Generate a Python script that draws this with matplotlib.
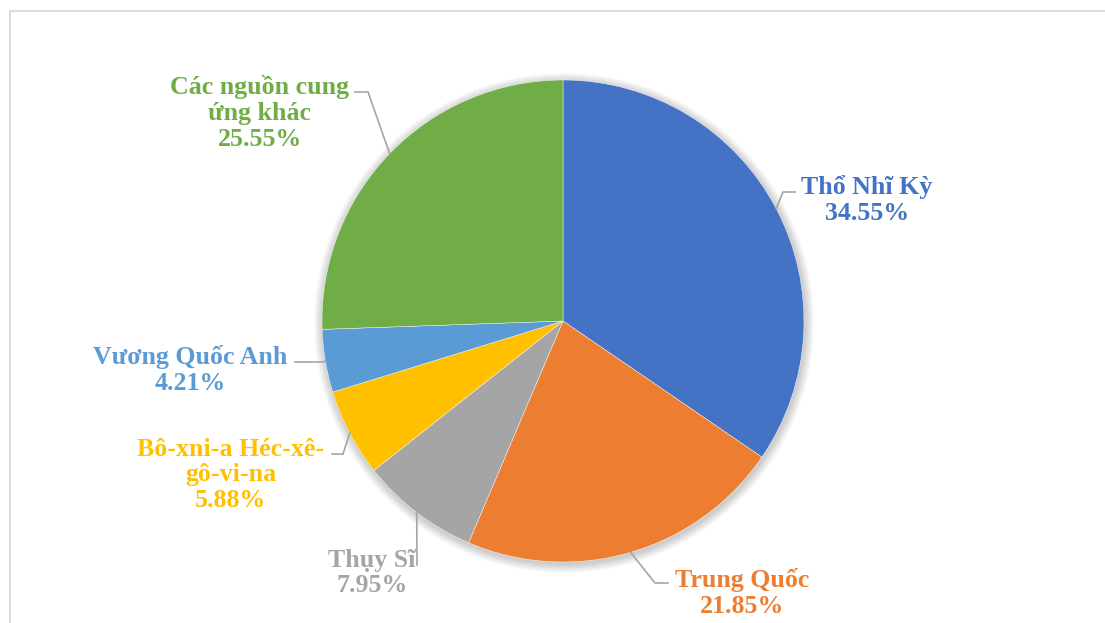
import matplotlib
matplotlib.use("Agg")
import matplotlib.pyplot as plt
from matplotlib.patches import Circle
import numpy as np

# Cơ cấu nguồn cung ứng (%)
labels = ["Thổ Nhĩ Kỳ", "Trung Quốc", "Thụy Sĩ", "Bô-xni-a Héc-xê-\ngô-vi-na",
          "Vương Quốc Anh", "Các nguồn cung\nứng khác"]
shares = [34.55, 21.85, 7.95, 5.88, 4.21, 25.55]
colors = ["#4472C4", "#ED7D31", "#A5A5A5", "#FFC000", "#5B9BD5", "#70AD47"]

W, H = 1105, 623
fig = plt.figure(figsize=(W / 100, H / 100), dpi=100)
ax = fig.add_axes([0, 0, 1, 1])

cx, cy, R = 563, H - 321, 241

# soft shadow round the pie
for i in range(10, 0, -1):
    ax.add_patch(Circle((cx + 1, cy - 2), R + i * 0.9, color="black",
                        alpha=0.02, lw=0, zorder=1))

wedges, _ = ax.pie(shares, colors=colors, startangle=90, counterclock=False,
                   center=(cx, cy), radius=R, frame=True,
                   wedgeprops=dict(edgecolor="white", linewidth=0.3, zorder=2))
ax.set_xlim(0, W)
ax.set_ylim(0, H)
ax.axis("off")

# label block centres and leader elbows (pixels from top-left)
label_pos = [(867, 200), (742, 593), (372, 573), (231, 475), (190, 370), (260, 113)]
elbows = [
    [(783, 192), (795, 192)],
    [(655, 583), (668, 583)],
    [(417, 565)],
    [(343, 454), (332, 454)],
    [(323, 362), (295, 362)],
    [(368, 92), (355, 92)],
]

font = ["Liberation Serif", "DejaVu Serif"]
for w, lab, val, col, (tx, ty), pts in zip(wedges, labels, shares, colors, label_pos, elbows):
    mid = np.deg2rad((w.theta1 + w.theta2) / 2)
    sx = w.center[0] + w.r * np.cos(mid)
    sy = w.center[1] + w.r * np.sin(mid)
    xs = [sx] + [p[0] for p in pts]
    ys = [sy] + [H - p[1] for p in pts]
    ax.plot(xs, ys, color="#A6A6A6", lw=1.2, zorder=3, solid_joinstyle="miter")
    ax.text(tx, H - ty, f"{lab}\n{val:.2f}%", color=col, family=font,
            fontsize=18.6, fontweight="bold", ha="center", va="center",
            linespacing=1.15, zorder=4)

# chart frame
ax.plot([10, 10, W + 5], [-5, H - 11, H - 11], color="#D9D9D9", lw=1.3,
        clip_on=False, zorder=0)

fig.savefig("out.png", dpi=100)
